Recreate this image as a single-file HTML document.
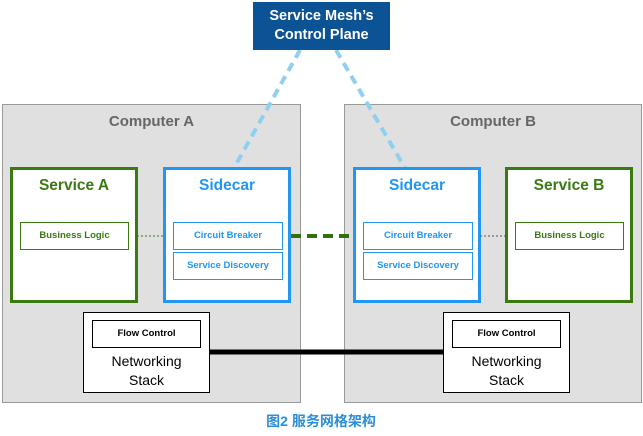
<!DOCTYPE html>
<html><head><style>
body{margin:0;width:643px;height:436px;background:#fff;position:relative;font-family:"Liberation Sans","Noto Sans CJK SC",sans-serif;overflow:hidden}
div{position:absolute;box-sizing:border-box;text-align:center}
.comp{background:#e0e0e0;border:1px solid #999;top:104px;height:299px;color:#666;font-size:15px;font-weight:bold;padding-top:8px}
.svc{border:3px solid #3a7a10;background:#fff;color:#3a7a10;top:167px;height:136px;width:128px;font-size:15.5px;font-weight:bold;padding-top:7px}
.sc{border:3px solid #2196f3;background:#fff;color:#2196f3;top:167px;height:136px;width:128px;font-size:15.5px;font-weight:bold;padding-top:7px}
.in{height:28px;font-size:9.5px;font-weight:bold;line-height:26px;background:#fff}
.bl{border:1px solid #3a7a10;color:#3a7a10;width:109px;top:222px}
.cb{border:1px solid #2196f3;color:#2196f3;width:110px}
.ns{border:1px solid #000;background:#fff;top:312px;height:81px;width:127px;font-size:14px;line-height:19px;padding-top:39px;color:#000}
.fc{border:1px solid #000;width:109px;top:320px;height:28px;font-size:9.5px;font-weight:bold;line-height:26px;color:#000}
</style></head><body>
<div class="comp" style="left:2px;width:299px">Computer A</div>
<div class="comp" style="left:344px;width:298px">Computer B</div>
<svg width="643" height="436" style="position:absolute;left:0;top:0">
<line x1="300" y1="50" x2="234" y2="168" stroke="#8fd0f0" stroke-width="4" stroke-dasharray="9,6"/>
<line x1="336" y1="50" x2="405" y2="168" stroke="#8fd0f0" stroke-width="4" stroke-dasharray="9,6"/>
</svg>
<div style="left:253px;top:2px;width:137px;height:48px;background:#0b5394;color:#fff;font-size:14.5px;font-weight:bold;line-height:19px;padding-top:5px">Service Mesh’s<br>Control Plane</div>
<div class="svc" style="left:10px">Service A</div>
<div class="sc" style="left:163px">Sidecar</div>
<div class="sc" style="left:353px">Sidecar</div>
<div class="svc" style="left:505px">Service B</div>
<div class="in bl" style="left:20px">Business Logic</div>
<div class="in bl" style="left:515px">Business Logic</div>
<div class="in cb" style="left:173px;top:222px">Circuit Breaker</div>
<div class="in cb" style="left:173px;top:252px">Service Discovery</div>
<div class="in cb" style="left:363px;top:222px">Circuit Breaker</div>
<div class="in cb" style="left:363px;top:252px">Service Discovery</div>
<svg width="643" height="436" style="position:absolute;left:0;top:0">
<line x1="137" y1="236" x2="163" y2="236" stroke="#3a7a10" stroke-width="1" stroke-dasharray="2,2"/>
<line x1="480" y1="236" x2="506" y2="236" stroke="#555" stroke-width="1" stroke-dasharray="2,2"/>
<line x1="291" y1="236" x2="352" y2="236" stroke="#2f6f0c" stroke-width="4" stroke-dasharray="10,6"/>
<line x1="209" y1="352" x2="443" y2="352" stroke="#000" stroke-width="5"/>
</svg>
<div class="ns" style="left:83px">Networking<br>Stack</div>
<div class="ns" style="left:443px">Networking<br>Stack</div>
<div class="fc" style="left:92px">Flow Control</div>
<div class="fc" style="left:452px">Flow Control</div>
<div style="left:221px;top:411px;width:200px;font-size:14px;font-weight:bold;color:#2a8fd8">图2 服务网格架构</div>
</body></html>
